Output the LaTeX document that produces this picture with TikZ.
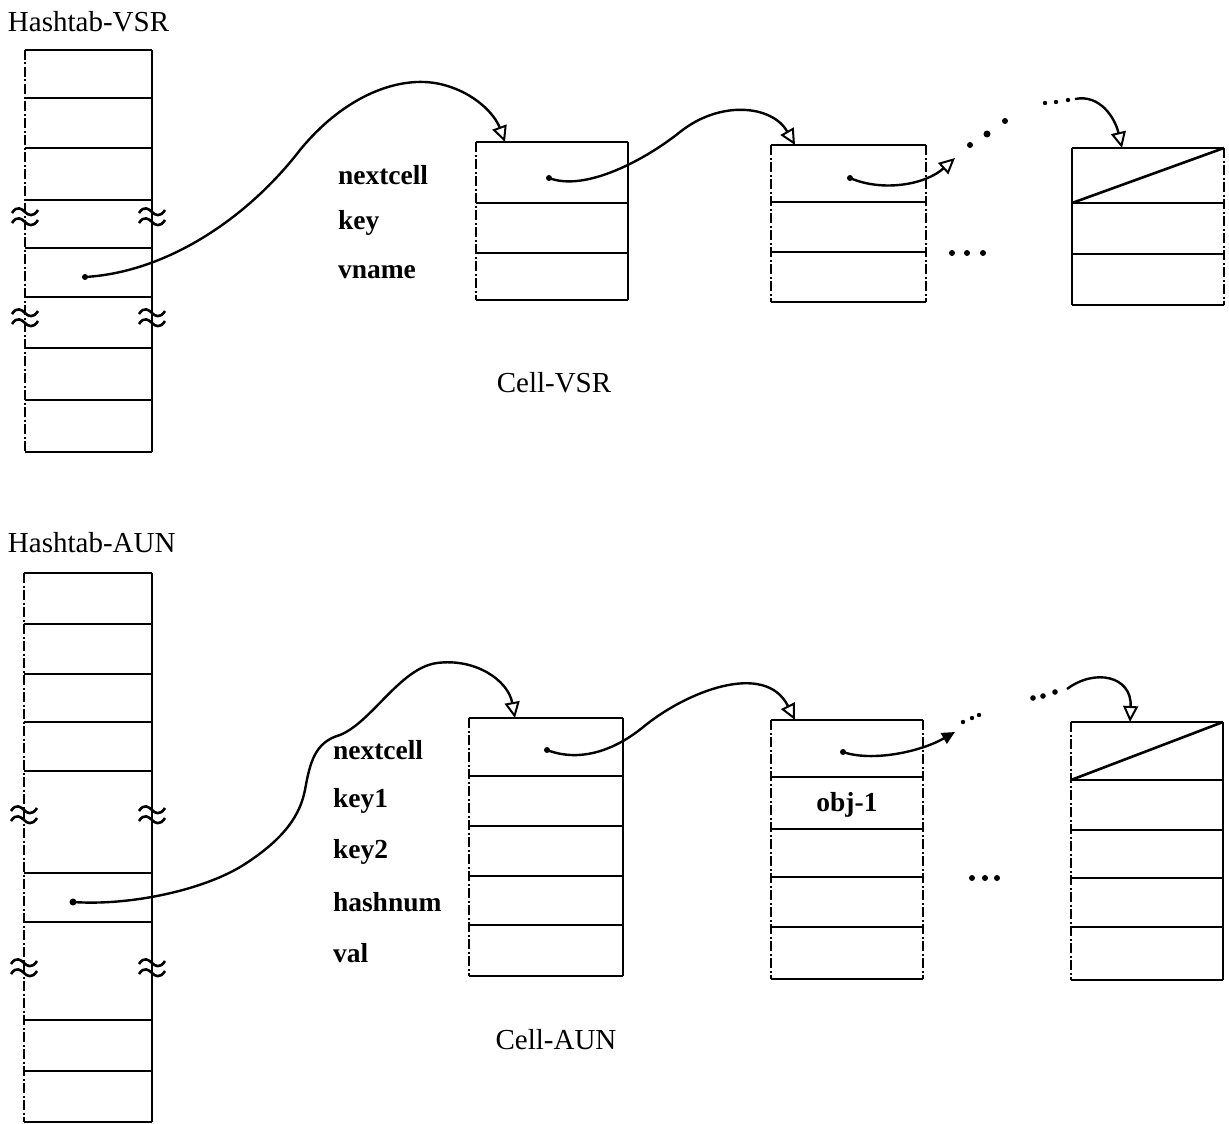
\documentclass[tikz,border=0pt]{standalone}
\usepackage{fontspec}
\setmainfont{Liberation Serif}
\usetikzlibrary{arrows.meta,calc}
\begin{document}
\begin{tikzpicture}[x=1pt,y=-1pt,
  every node/.style={inner sep=0pt, outer sep=0pt},
  lbl/.style={font=\fontsize{27.5}{30}\selectfont\bfseries, anchor=west},
  ttl/.style={font=\fontsize{29}{31}\selectfont},
  rowline/.style={line width=2.2pt},
  edge/.style={line width=2.2pt},
  dedge/.style={line width=2pt, dash pattern=on 10pt off 2.5pt on 2pt off 2.5pt},
  ptr/.style={line width=2.4pt, -{Triangle[open,length=16pt,width=15pt,line width=2pt]}},
  ptrf/.style={line width=2.4pt, -{Triangle[length=13pt,width=12pt]}},
  frame/.style={draw=none, minimum width=#1},
  brk/.pic={
    \draw[line width=2.6pt] (-13,-4) .. controls (-8,-12) and (-3,-8) .. (0,-5) .. controls (3,-2) and (8,1) .. (13,-7);
    \draw[line width=2.6pt] (-13,6) .. controls (-8,-2) and (-3,2) .. (0,5) .. controls (3,8) and (8,11) .. (13,3);
  }
]
\useasboundingbox (0,0) rectangle (1229,1124);

% ---------------- titles
\node[ttl, anchor=west] (t1) at (8,22) {Hashtab-VSR};
\node[ttl, anchor=west] (t2) at (8,543) {Hashtab-AUN};

% ---------------- hash table VSR
\node[frame=127pt, minimum height=402pt] (h1) at (88.5,251) {};
\draw[edge] (h1.north west) -- (h1.north east);
\draw[edge] (h1.south west) -- (h1.south east);
\draw[dedge] (h1.north west) -- (h1.south west);
\draw[edge] (h1.north east) -- (h1.south east);
\foreach \y in {98,148,200,248,297,348,400}
  \draw[rowline] (h1.west |- 0,\y) -- (h1.east |- 0,\y);
\pic at (h1.west |- 0,217) {brk};
\pic at (h1.east |- 0,217) {brk};
\pic at (h1.west |- 0,318) {brk};
\pic at (h1.east |- 0,318) {brk};

% ---------------- hash table AUN
\node[frame=128pt, minimum height=549pt] (h2) at (88,847.5) {};
\draw[edge] (h2.north west) -- (h2.north east);
\draw[edge] (h2.south west) -- (h2.south east);
\draw[dedge] (h2.north west) -- (h2.south west);
\draw[edge] (h2.north east) -- (h2.south east);
\foreach \y in {624,674,722,771,873,922,1020,1071}
  \draw[rowline] (h2.west |- 0,\y) -- (h2.east |- 0,\y);
\pic at (h2.west |- 0,815) {brk};
\pic at (h2.east |- 0,815) {brk};
\pic at (h2.west |- 0,968) {brk};
\pic at (h2.east |- 0,968) {brk};

% ---------------- VSR cells
\node[frame=152pt, minimum height=158pt] (c1) at (552,221) {};
\node[frame=155pt, minimum height=157pt] (c2) at (848.5,223.5) {};
\node[frame=152pt, minimum height=157pt] (c3) at (1148,226.5) {};
\foreach \c/\l/\r in {c1/dedge/edge, c2/dedge/dedge, c3/edge/dedge} {
  \draw[edge] (\c.north west) -- (\c.north east);
  \draw[edge] (\c.south west) -- (\c.south east);
  \draw[\l] (\c.north west) -- (\c.south west);
  \draw[\r] (\c.north east) -- (\c.south east);
}
\foreach \y in {203,253} \draw[rowline] (c1.west |- 0,\y) -- (c1.east |- 0,\y);
\foreach \y in {202,252} \draw[rowline] (c2.west |- 0,\y) -- (c2.east |- 0,\y);
\foreach \y in {203,254} \draw[rowline] (c3.west |- 0,\y) -- (c3.east |- 0,\y);
\draw[line width=2.6pt] (c3.west |- 0,203) -- (c3.north east);

\node[lbl] (l1) at (338,175) {nextcell};
\node[lbl] (l2) at (338,223) {key};
\node[lbl] (l3) at (338,272) {vname};
\node[ttl] (n1) at (554,383) {Cell-VSR};

% pointers VSR
\coordinate (p0) at (85,277);
\coordinate (p1) at (549,178);
\coordinate (p2) at (850,178);
\coordinate (e2) at (955,158);
\coordinate (q3) at (1075,99);
\fill (p0) circle (3);
\fill (p1) circle (3);
\fill (p2) circle (3);
\draw[ptr] (p0) .. controls (170,272) and (250,215) .. (300,150)
  .. controls (345,95) and (400,75) .. (440,84)
  .. controls (475,92) and (495,115) .. ($(c1.north west)+(29,0)$);
\draw[ptr] (p1) .. controls (585,192) and (645,160) .. (680,132)
  .. controls (720,100) and (772,105) .. ($(c2.north west)+(24,0)$);
\draw[ptr] (p2) .. controls (882,192) and (925,185) .. (e2);
\fill (970,145) circle (3);
\fill (987,134) circle (3.5);
\fill (1005,121) circle (3);
\fill (1045,103) circle (2.2);
\fill (1056,102) circle (2.2);
\fill (1068,100) circle (2.2);
\draw[ptr] (q3) .. controls (1100,94) and (1115,118) .. ($(c3.north west)+(50,0)$);
\fill (952,253) circle (3);
\fill (967,253) circle (3);
\fill (983,253) circle (3);

% ---------------- AUN cells
\node[frame=154pt, minimum height=258pt] (d1) at (546,847) {};
\node[frame=152pt, minimum height=259pt] (d2) at (847,849.5) {};
\node[frame=152pt, minimum height=258pt] (d3) at (1147,851) {};
\foreach \c/\l/\r in {d1/dedge/edge, d2/dedge/dedge, d3/dedge/edge} {
  \draw[edge] (\c.north west) -- (\c.north east);
  \draw[edge] (\c.south west) -- (\c.south east);
  \draw[\l] (\c.north west) -- (\c.south west);
  \draw[\r] (\c.north east) -- (\c.south east);
}
\foreach \y in {776,826,876,925} \draw[rowline] (d1.west |- 0,\y) -- (d1.east |- 0,\y);
\foreach \y in {777,829,877,927} \draw[rowline] (d2.west |- 0,\y) -- (d2.east |- 0,\y);
\foreach \y in {780,830,878,927} \draw[rowline] (d3.west |- 0,\y) -- (d3.east |- 0,\y);
\draw[line width=2.6pt] (d3.west |- 0,780) -- (d3.north east);

\node[lbl] (m1) at (333,750) {nextcell};
\node[lbl] (m2) at (333,801) {key1};
\node[lbl] (m3) at (333,852) {key2};
\node[lbl] (m4) at (333,902) {hashnum};
\node[lbl] (m5) at (333,953) {val};
\node[lbl, anchor=center] (ob) at (847,805) {obj-1};
\node[ttl] (n2) at (556,1040) {Cell-AUN};

% pointers AUN
\coordinate (r0) at (73,902);
\coordinate (r1) at (547,750);
\coordinate (r2) at (843,752);
\coordinate (f2) at (955,732);
\coordinate (s3) at (1067,689);
\fill (r0) circle (3.5);
\fill (r1) circle (3);
\fill (r2) circle (3);
\draw[ptr] (r0) .. controls (130,906) and (205,890) .. (245,864)
  .. controls (285,838) and (300,815) .. (305,790)
  .. controls (310,762) and (315,742) .. (340,735)
  .. controls (372,722) and (400,668) .. (437,663)
  .. controls (475,658) and (508,680) .. ($(d1.north west)+(46,0)$);
\draw[ptr] (r1) .. controls (578,762) and (612,752) .. (642,728)
  .. controls (685,692) and (765,660) .. ($(d2.north west)+(24,0)$);
\draw[ptrf] (r2) .. controls (872,762) and (920,752) .. (f2);
\fill (963,722) circle (2.2);
\fill (972,718) circle (2.2);
\fill (979,715) circle (2.2);
\fill (1033,698) circle (2.8);
\fill (1043,696) circle (2.8);
\fill (1055,692) circle (2.8);
\draw[ptr] (s3) .. controls (1095,668) and (1132,676) .. ($(d3.north west)+(59,0)$);
\fill (972,878) circle (3);
\fill (985,878) circle (3);
\fill (997,878) circle (3);
\end{tikzpicture}
\end{document}
